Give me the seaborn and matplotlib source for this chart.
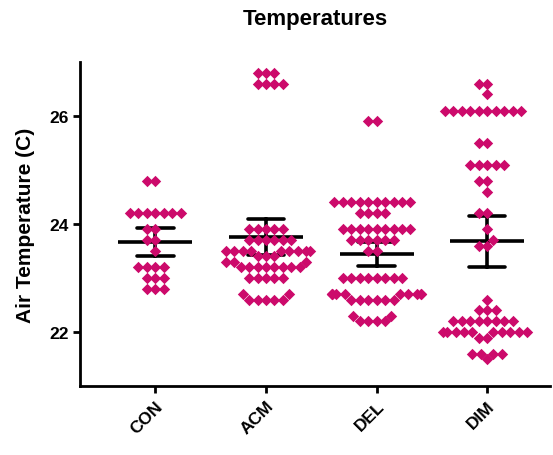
import numpy as np
import pandas as pd
import matplotlib
matplotlib.use('Agg')
import matplotlib.pyplot as plt
import seaborn as sns

# ---------------------------------------------------------------
# Data (air temperature readings per group)
# ---------------------------------------------------------------
groups = ['CON', 'ACM', 'DEL', 'DIM']

con_temps = [24.8, 24.8,
             24.2, 24.2, 24.2, 24.2, 24.2, 24.2, 24.2,
             23.9, 23.9, 23.7, 23.7, 23.5,
             23.2, 23.2, 23.2, 23.2,
             23.0, 23.0, 23.0,
             22.8, 22.8, 22.8]

acm_temps = [26.8, 26.8, 26.8,
             26.6, 26.6, 26.6, 26.6,
             23.9, 23.9, 23.9, 23.9, 23.9,
             23.7, 23.7, 23.7, 23.7, 23.7, 23.7,
             23.5, 23.5, 23.5, 23.5, 23.5, 23.5, 23.5, 23.5, 23.5,
             23.4, 23.4, 23.4,
             23.3, 23.3, 23.3,
             23.2, 23.2, 23.2, 23.2, 23.2, 23.2, 23.2, 23.2,
             23.0, 23.0, 23.0, 23.0, 23.0,
             22.7, 22.7,
             22.6, 22.6, 22.6, 22.6, 22.6]

del_temps = [25.9, 25.9,
             24.4, 24.4, 24.4, 24.4, 24.4, 24.4, 24.4, 24.4, 24.4, 24.4,
             24.2, 24.2, 24.2, 24.2,
             23.9, 23.9, 23.9, 23.9, 23.9, 23.9, 23.9, 23.9, 23.9,
             23.7, 23.7, 23.7, 23.7, 23.7, 23.7,
             23.5, 23.5,
             23.0, 23.0, 23.0, 23.0, 23.0, 23.0, 23.0, 23.0,
             22.7, 22.7, 22.7, 22.7, 22.7, 22.7, 22.7, 22.7, 22.7, 22.7,
             22.6, 22.6, 22.6, 22.6, 22.6, 22.6,
             22.3, 22.3,
             22.2, 22.2, 22.2, 22.2]

dim_temps = [26.6, 26.6, 26.4,
             26.1, 26.1, 26.1, 26.1, 26.1, 26.1, 26.1, 26.1, 26.1, 26.1,
             25.5, 25.5,
             25.1, 25.1, 25.1, 25.1, 25.1,
             24.8, 24.8, 24.6,
             24.2, 24.2, 23.9, 23.7, 23.6, 23.6,
             22.6,
             22.4, 22.4, 22.4,
             22.2, 22.2, 22.2, 22.2, 22.2, 22.2, 22.2, 22.2,
             22.0, 22.0, 22.0, 22.0, 22.0, 22.0, 22.0, 22.0, 22.0, 22.0,
             21.9, 21.9,
             21.6, 21.6, 21.6, 21.6,
             21.5]

y_ticks = [22, 24, 26]

df = pd.DataFrame({
    'group': np.repeat(groups, [len(con_temps), len(acm_temps),
                                len(del_temps), len(dim_temps)]),
    'temp': con_temps + acm_temps + del_temps + dim_temps,
})

# ---------------------------------------------------------------
# Plot
# ---------------------------------------------------------------
sns.set_style('ticks')
plt.rcParams['font.family'] = ['Liberation Sans', 'DejaVu Sans']
plt.rcParams['font.weight'] = 'bold'
plt.rcParams['text.color'] = 'black'
plt.rcParams['axes.labelcolor'] = 'black'
plt.rcParams['xtick.color'] = 'black'
plt.rcParams['ytick.color'] = 'black'
plt.rcParams['axes.edgecolor'] = 'black'

fig = plt.figure(figsize=(5.53, 4.56), dpi=100)
ax = fig.add_axes([0.145, 0.151, 0.85, 0.711])

sns.swarmplot(data=df, x='group', y='temp', order=groups, ax=ax,
              marker='D', color='#CC0A6B', size=5.8, linewidth=0)

# mean with ~95% CI
sns.pointplot(data=df, x='group', y='temp', order=groups, ax=ax,
              errorbar=('se', 2), linestyle='none', markers='_',
              markersize=53, markeredgewidth=2.6, color='black',
              capsize=0.33, err_kws={'linewidth': 2.6})

ax.set_xlim(-0.68, 3.57)
ax.set_ylim(21, 27)
ax.set_yticks(y_ticks)
ax.set_title('Temperatures', fontsize=16, fontweight='bold', pad=27)
ax.set_ylabel('Air Temperature (C)', fontsize=15, fontweight='bold', labelpad=10)
ax.set_xlabel('')
ax.tick_params(axis='both', width=2, length=5, labelsize=12.5)
plt.setp(ax.get_xticklabels(), rotation=45, ha='right', rotation_mode='anchor')

for side in ['left', 'bottom']:
    ax.spines[side].set_linewidth(2)
sns.despine(ax=ax)

fig.savefig('out.png', dpi=100)
